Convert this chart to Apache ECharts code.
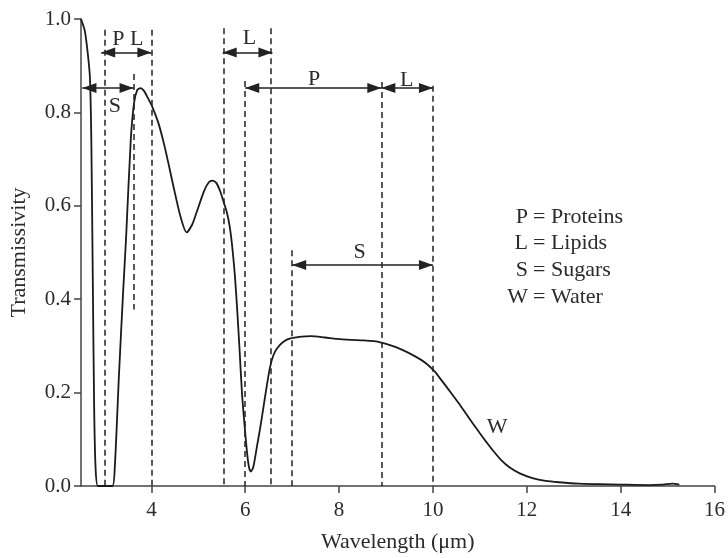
<!DOCTYPE html>
<html>
<head>
<meta charset="utf-8">
<script src="https://cdn.jsdelivr.net/npm/echarts@6/dist/echarts.min.js"></script>
<style>
html, body { margin: 0; padding: 0; background: #fff; }
#chart { width: 728px; height: 558px; }
</style>
</head>
<body>
<div id="chart"></div>
<script>
// water transmissivity curve
var wavelength = [2.5, 2.58, 2.64, 2.69, 2.72, 2.75, 2.78, 2.81, 2.86, 3.0, 3.17, 3.22, 3.31, 3.4, 3.46, 3.56, 3.63, 3.7, 3.77, 3.85, 3.93,
    4.02, 4.15, 4.27, 4.38, 4.48, 4.62, 4.75, 4.87, 4.96, 5.12, 5.22, 5.3, 5.39, 5.47, 5.55, 5.61, 5.67, 5.72, 5.78, 5.83, 5.88, 5.93, 5.99,
    6.04, 6.08, 6.12, 6.17, 6.25, 6.32, 6.39, 6.46, 6.53, 6.6, 6.68, 6.8, 6.96, 7.2, 7.4, 7.7, 7.95, 8.25, 8.52, 8.75, 8.9, 9.1, 9.36,
    9.65, 9.85, 10.04, 10.2, 10.36, 10.55, 10.71, 10.85, 11.0, 11.14, 11.27, 11.45, 11.63, 11.85, 12.12, 12.4, 12.69, 13.1, 13.54, 14.0,
    14.6, 14.9, 15.1, 15.25];
var transmissivity = [1.0, 0.975, 0.93, 0.875, 0.74, 0.455, 0.17, 0.04, 0.0, 0.0, 0.0, 0.04, 0.24, 0.42, 0.53, 0.74, 0.82, 0.848, 0.852, 0.845, 0.83,
    0.812, 0.777, 0.732, 0.683, 0.637, 0.577, 0.543, 0.56, 0.585, 0.631, 0.65, 0.654, 0.648, 0.63, 0.605, 0.585, 0.555, 0.515, 0.45, 0.375, 0.29, 0.2, 0.125,
    0.07, 0.04, 0.031, 0.04, 0.085, 0.125, 0.17, 0.215, 0.255, 0.28, 0.295, 0.308, 0.316, 0.32, 0.321, 0.318, 0.315, 0.313, 0.312, 0.31, 0.307, 0.301, 0.291,
    0.276, 0.263, 0.245, 0.224, 0.203, 0.177, 0.154, 0.134, 0.113, 0.094, 0.077, 0.056, 0.04, 0.027, 0.017, 0.011, 0.008, 0.005, 0.004, 0.003,
    0.002, 0.003, 0.005, 0.003];

var xTicks = [4, 6, 8, 10, 12, 14, 16];

// dashed band limits
var guideX = [3.0, 3.63, 4.0, 5.54, 6.0, 6.55, 7.0, 8.9, 10.0];
var guideTop = [0.977, 0.882, 0.977, 0.98, 0.867, 0.98, 0.505, 0.865, 0.857];
var guideBottom = [0, 0.378, 0, 0, 0, 0, 0, 0, 0];

// double arrows
var arrowFrom = [2.93, 2.53, 5.52, 6.0, 8.9, 7.0];
var arrowTo = [4.0, 3.62, 6.58, 8.9, 10.0, 10.0];
var arrowY = [0.928, 0.852, 0.928, 0.852, 0.852, 0.473];

// band letters
var tagText = ['P L', 'S', 'L', 'P', 'L', 'S', 'W'];
var tagX = [3.5, 3.22, 6.09, 7.47, 9.44, 8.44, 11.37];
var tagY = [0.956, 0.814, 0.959, 0.871, 0.869, 0.501, 0.125];

var keyLetters = ['P', 'L', 'S', 'W'];
var keyNames = ['Proteins', 'Lipids', 'Sugars', 'Water'];

var chart = echarts.init(document.getElementById('chart'));

var serif = 'Liberation Serif';
var ink = '#222';
var textColor = '#2b2b2b';

var curve = wavelength.map(function (x, i) { return [x, transmissivity[i]]; });

var marks = [];
guideX.forEach(function (x, i) {
    marks.push([
        { coord: [x, guideTop[i]], symbol: 'none', lineStyle: { type: [6, 4], width: 1.5, color: ink } },
        { coord: [x, guideBottom[i]], symbol: 'none' }
    ]);
});
arrowFrom.forEach(function (x, i) {
    marks.push([
        { coord: [x, arrowY[i]], symbol: 'triangle', symbolSize: [10, 14], symbolOffset: [0, 7], lineStyle: { type: 'solid', width: 1.6, color: ink } },
        { coord: [arrowTo[i], arrowY[i]], symbol: 'triangle', symbolSize: [10, 14], symbolOffset: [0, 7] }
    ]);
});

var tags = tagText.map(function (t, i) { return { name: t, value: [tagX[i], tagY[i]] }; });

var keyGraphics = [];
keyLetters.forEach(function (k, i) {
    keyGraphics.push({
        type: 'text', x: 528, y: 217 + i * 26.7,
        style: { text: k, font: '22px "' + serif + '"', fill: textColor, textAlign: 'right', textVerticalAlign: 'middle' }
    });
    keyGraphics.push({
        type: 'text', x: 533, y: 217 + i * 26.7,
        style: { text: '= ' + keyNames[i], font: '22px "' + serif + '"', fill: textColor, textAlign: 'left', textVerticalAlign: 'middle' }
    });
});

var option = {
    animation: false,
    backgroundColor: '#fff',
    grid: { left: 80, right: 12, top: 19, bottom: 66 },
    xAxis: {
        type: 'value',
        min: 2.5,
        max: 16,
        name: 'Wavelength (μm)',
        nameLocation: 'middle',
        nameGap: 45,
        nameTextStyle: { fontFamily: serif, fontSize: 22, color: textColor },
        axisLine: { lineStyle: { color: '#444', width: 1.5 } },
        axisTick: { inside: false, length: 7, lineStyle: { color: '#444', width: 1.5 }, customValues: xTicks },
        axisLabel: { customValues: xTicks, margin: 14, fontFamily: serif, fontSize: 21, color: textColor },
        splitLine: { show: false }
    },
    yAxis: {
        type: 'value',
        min: 0,
        max: 1,
        interval: 0.2,
        name: 'Transmissivity',
        nameLocation: 'middle',
        nameGap: 51,
        nameTextStyle: { fontFamily: serif, fontSize: 22, color: textColor },
        axisLine: { show: true, lineStyle: { color: '#444', width: 1.5 } },
        axisTick: { show: true, inside: false, length: 7, lineStyle: { color: '#444', width: 1.5 } },
        axisLabel: { margin: 10, fontFamily: serif, fontSize: 21, color: textColor, formatter: function (v) { return v.toFixed(1); } },
        splitLine: { show: false }
    },
    graphic: keyGraphics,
    series: [
        {
            name: 'W',
            type: 'line',
            data: curve,
            showSymbol: false,
            smooth: 0.25,
            lineStyle: { color: '#1a1a1a', width: 1.8 },
            markLine: {
                silent: true,
                label: { show: false },
                data: marks
            },
            z: 3
        },
        {
            name: 'tags',
            type: 'scatter',
            data: tags,
            symbolSize: 0,
            itemStyle: { opacity: 1 },
            label: {
                show: true,
                position: 'inside',
                formatter: function (p) { return p.name; },
                fontFamily: serif,
                fontSize: 22,
                color: textColor,
                opacity: 1
            },
            z: 4
        }
    ]
};

chart.setOption(option);
</script>
</body>
</html>
